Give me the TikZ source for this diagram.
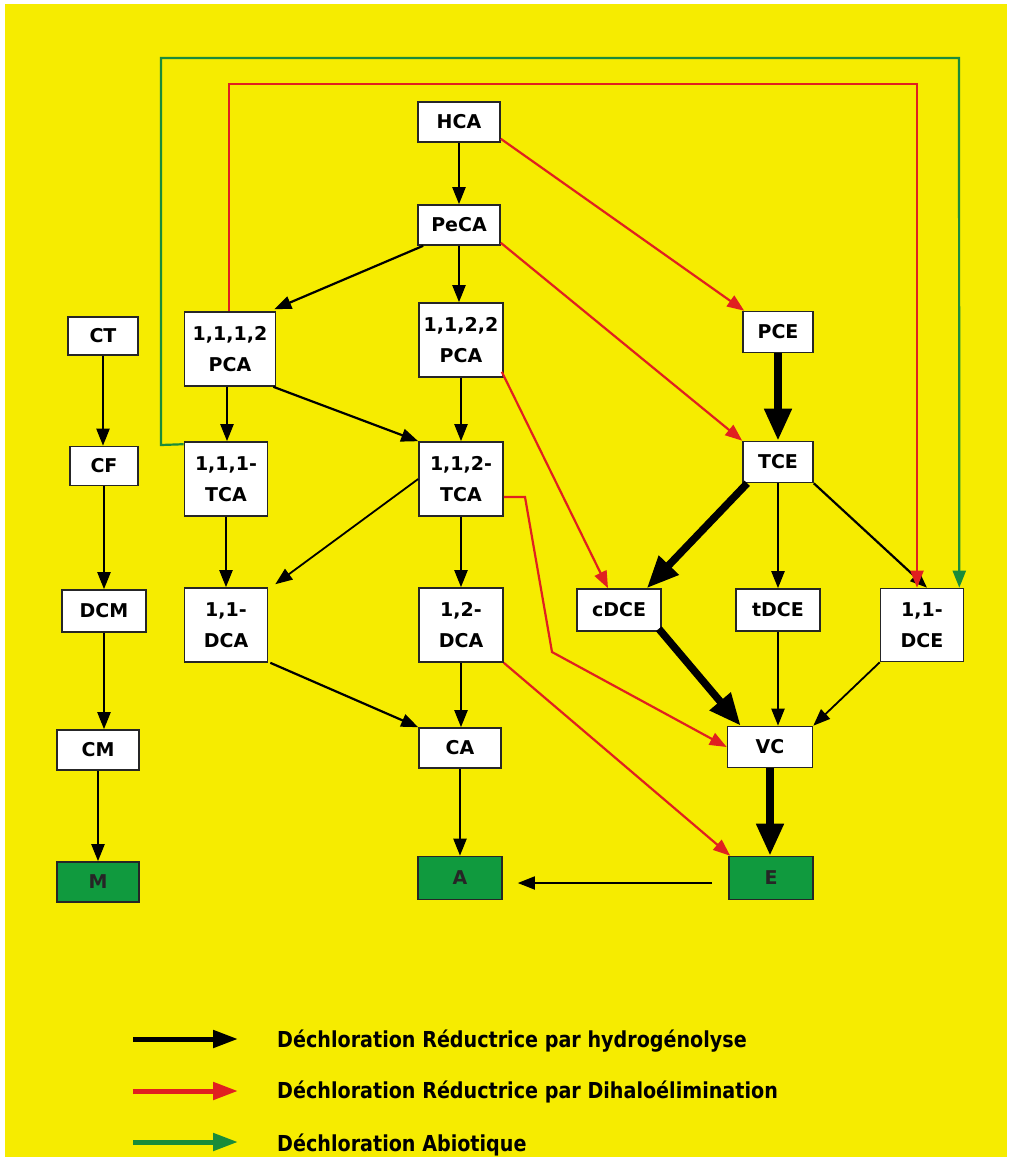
\documentclass[tikz,border=0pt]{standalone}
\usepackage{fontspec}
\usepackage{graphicx}
\setmainfont{DejaVu Sans}
\usetikzlibrary{arrows.meta}
\definecolor{bgyellow}{HTML}{F6EC00}
\definecolor{rred}{HTML}{E02020}
\definecolor{ggreen}{HTML}{1A8C3A}
\definecolor{gfill}{HTML}{109A3E}
\tikzset{
  box/.style={draw=black!85, line width=1.6pt, fill=white, inner sep=0pt, align=center,
    font=\bfseries\fontsize{19}{31}\selectfont},
  gbox/.style={box, fill=gfill, text=black!85},
  blk/.style={draw=black, line width=2.2pt, -{Triangle[length=17pt,width=13pt]}},
  blkthin/.style={draw=black, line width=1.8pt, -{Triangle[length=17pt,width=13pt]}},
  thk/.style={draw=black, line width=7.5pt, -{Triangle[length=32pt,width=26pt]}},
  redarr/.style={draw=rred, line width=2.2pt, -{Triangle[length=17pt,width=13pt]}},
  grnarr/.style={draw=ggreen, line width=2.2pt, -{Triangle[length=17pt,width=13pt]}},
  legarr/.style={line width=5pt, -{Triangle[length=25pt,width=17pt]}},
  legtext/.style={anchor=base west, inner sep=0pt},
}
\newcommand{\legfont}[1]{\scalebox{0.87}[1]{\bfseries\fontsize{22}{26}\selectfont #1}}
\begin{document}
\begin{tikzpicture}[x=1pt,y=-1pt]
\useasboundingbox (0,0) rectangle (1012,1160);
\fill[white] (0,0) rectangle (1012,1160);
\fill[bgyellow] (5,4) rectangle (1007,1157);

% nodes
\node[box, minimum width=82pt, minimum height=40pt] (HCA) at (459,122) {HCA};
\node[box, minimum width=82pt, minimum height=40pt] (PeCA) at (459,225) {PeCA};
\node[box, minimum width=70pt, minimum height=38pt] (CT) at (103,336) {CT};
\node[box, minimum width=91pt, minimum height=74pt] (P1112) at (230,349) {1,1,1,2\\PCA};
\node[box, minimum width=84pt, minimum height=74pt] (P1122) at (461,340) {1,1,2,2\\PCA};
\node[box, minimum width=70pt, minimum height=41pt] (PCE) at (778,332) {PCE};
\node[box, minimum width=68pt, minimum height=39pt] (CF) at (104,466) {CF};
\node[box, minimum width=83pt, minimum height=74pt] (T111) at (226,479) {1,1,1-\\TCA};
\node[box, minimum width=84pt, minimum height=74pt] (T112) at (461,479) {1,1,2-\\TCA};
\node[box, minimum width=70pt, minimum height=41pt] (TCE) at (778,462) {TCE};
\node[box, minimum width=83pt, minimum height=74pt] (D11) at (226,625) {1,1-\\DCA};
\node[box, minimum width=84pt, minimum height=74pt] (D12) at (461,625) {1,2-\\DCA};
\node[box, minimum width=84pt, minimum height=42pt] (DCM) at (104,611) {DCM};
\node[box, minimum width=84pt, minimum height=42pt] (cDCE) at (619,610) {cDCE};
\node[box, minimum width=84pt, minimum height=42pt] (tDCE) at (778,610) {tDCE};
\node[box, minimum width=83pt, minimum height=73pt] (DCE11) at (922,625) {1,1-\\DCE};
\node[box, minimum width=82pt, minimum height=40pt] (CM) at (98,750) {CM};
\node[box, minimum width=82pt, minimum height=40pt] (CA) at (460,748) {CA};
\node[box, minimum width=85pt, minimum height=41pt] (VC) at (770,747) {VC};
\node[gbox, minimum width=82pt, minimum height=40pt] (M) at (98,882) {M};
\node[gbox, minimum width=84pt, minimum height=43pt] (A) at (460,878) {A};
\node[gbox, minimum width=84pt, minimum height=43pt] (E) at (771,878) {E};

% left column
\draw[blk] (CT.south) -- (CT.south |- CF.north);
\draw[blk] (CF.south) -- (CF.south |- DCM.north);
\draw[blk] (DCM.south) -- (DCM.south |- CM.north);
\draw[blk] (CM.south) -- (CM.south |- M.north);

% ethanes
\draw[blk] (HCA.south) -- (PeCA.north);
\draw[blk] ([xshift=6pt]PeCA.south west) -- ([xshift=-2pt,yshift=2pt]P1112.north east);
\draw[blk] (PeCA.south) -- (PeCA.south |- P1122.north);
\draw[blk] ([xshift=-3pt]P1112.south) -- ([xshift=-3pt]P1112.south |- T111.north);
\draw[blk] ([xshift=-3pt]P1112.south east) -- (T112.north west);
\draw[blk] (P1122.south) -- (T112.north);
\draw[blk] (T111.south) -- (D11.north);
\draw[blkthin] (T112.west) -- ([shift={(7pt,3pt)}]D11.north east);
\draw[blk] (T112.south) -- (D12.north);
\draw[blk] ([xshift=2pt]D11.south east) -- (CA.north west);
\draw[blk] (D12.south) -- (D12.south |- CA.north);
\draw[blk] (CA.south) -- (CA.south |- A.north);

% ethenes
\draw[thk] (PCE.south) -- (TCE.north);
\draw[thk] ([xshift=5pt]TCE.south west) -- ([xshift=-15pt]cDCE.north east);
\draw[blk] (TCE.south) -- (TCE.south |- tDCE.north);
\draw[blk] (TCE.south east) -- ([xshift=5pt]DCE11.north);
\draw[thk] ([shift={(-3pt,3pt)}]cDCE.south east) -- ([xshift=14pt]VC.north west);
\draw[blk] (tDCE.south) -- (tDCE.south |- VC.north);
\draw[blkthin] (DCE11.south west) -- (VC.north east);
\draw[thk] (VC.south) -- (VC.south |- E.north);
\coordinate (ea) at ([shift={(-16pt,-5pt)}]E.west);
\coordinate (ae) at ([shift={(15pt,-5pt)}]A.east);
\draw[blkthin] (ea) -- (ae);

% red dihaloelimination
\draw[redarr] ([yshift=4pt]HCA.south east) -- ([xshift=2pt]PCE.north west);
\draw[redarr] ([yshift=3pt]PeCA.south east) -- (TCE.north west);
\draw[redarr] ([shift={(-2pt,6pt)}]P1122.south east) -- ([xshift=-11pt]cDCE.north);
\coordinate (rb1) at (525,497);
\coordinate (rb2) at (552,652);
\draw[redarr] ([yshift=-18pt]T112.east) -- (rb1) -- (rb2) -- (VC.west);
\draw[redarr] (D12.south east) -- ([xshift=2pt]E.north west);
\coordinate (rt1) at (229,84);
\coordinate (rt2) at (917,84);
\draw[redarr] ([xshift=-1pt]P1112.north) -- (rt1) -- (rt2) -- ([xshift=-5pt]DCE11.north);

% green abiotic
\coordinate (gt0) at (161,445);
\coordinate (gt1) at (161,58);
\coordinate (gt2) at (959,58);
\draw[grnarr] ([yshift=-3pt]T111.north west) -- (gt0) -- (gt1) -- (gt2) -- ([xshift=-5pt]DCE11.north east);

% legend
\coordinate (l1a) at (133,1039); \coordinate (l1b) at (238,1039);
\coordinate (l2a) at (133,1091); \coordinate (l2b) at (238,1091);
\coordinate (l3a) at (133,1142); \coordinate (l3b) at (238,1142);
\draw[legarr, draw=black, fill=black] (l1a) -- (l1b);
\draw[legarr, draw=rred, fill=rred] (l2a) -- (l2b);
\draw[legarr, draw=ggreen, fill=ggreen] (l3a) -- (l3b);
\node[legtext] (t1) at (277,1047) {\legfont{Déchloration Réductrice par hydrogénolyse}};
\node[legtext] (t2) at (277,1098) {\legfont{Déchloration Réductrice par Dihaloélimination}};
\node[legtext] (t3) at (277,1151) {\legfont{Déchloration Abiotique}};
\end{tikzpicture}
\end{document}
